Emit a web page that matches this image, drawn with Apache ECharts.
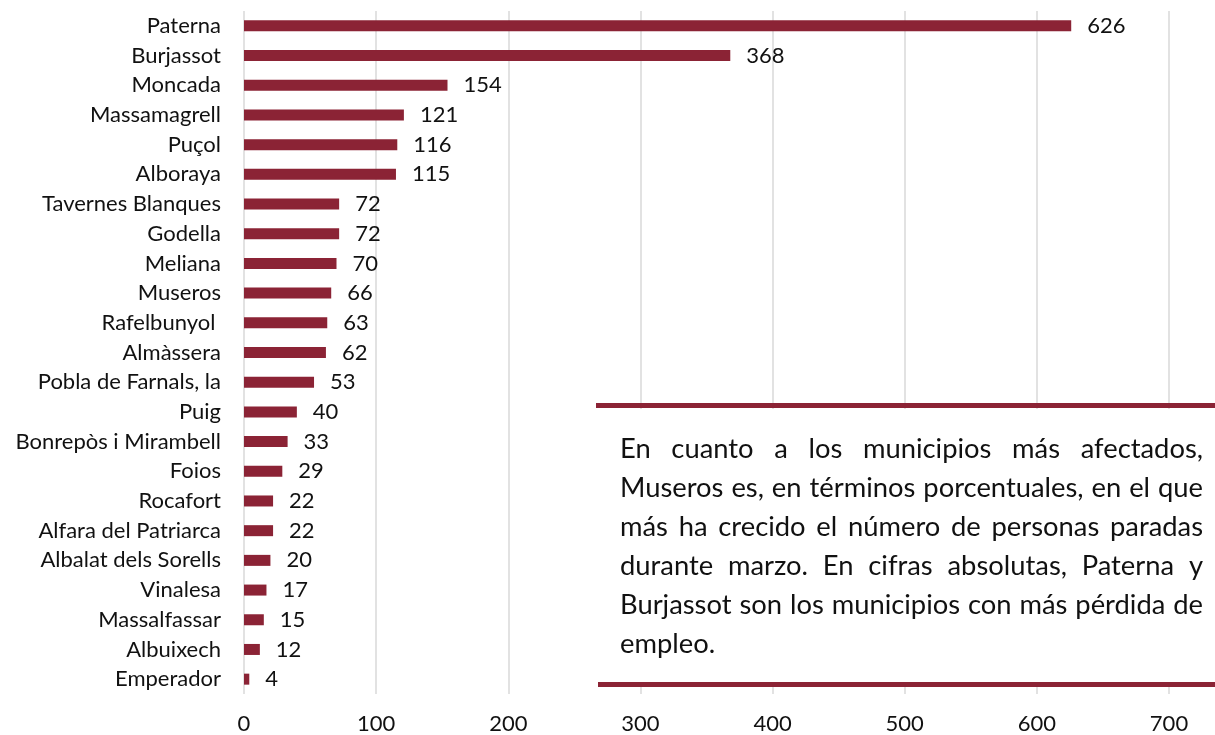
<!DOCTYPE html>
<html>
<head>
<meta charset="utf-8">
<script src="https://cdn.jsdelivr.net/npm/echarts@6/dist/echarts.min.js"></script>
<style>
  html, body { margin: 0; padding: 0; background: #fff; }
  #chart { width: 1215px; height: 735px; }
</style>
</head>
<body>
<div id="chart"></div>
<script>
// municipios, de arriba a abajo
const municipios = ['Paterna', 'Burjassot', 'Moncada', 'Massamagrell', 'Puçol', 'Alboraya',
  'Tavernes Blanques', 'Godella', 'Meliana', 'Museros', 'Rafelbunyol ', 'Almàssera',
  'Pobla de Farnals, la', 'Puig', 'Bonrepòs i Mirambell', 'Foios', 'Rocafort',
  'Alfara del Patriarca', 'Albalat dels Sorells', 'Vinalesa', 'Massalfassar', 'Albuixech', 'Emperador'];
const parados = [626, 368, 154, 121, 116, 115, 72, 72, 70, 66, 63, 62, 53, 40, 33, 29, 22, 22, 20, 17, 15, 12, 4];
const xTicks = [0, 700, 100]; // min, max, interval

const lineasTexto = [
  'En cuanto a los municipios más afectados,',
  'Museros es, en términos porcentuales, en el que',
  'más ha crecido el número de personas paradas',
  'durante marzo. En cifras absolutas, Paterna y',
  'Burjassot son los municipios con más pérdida de',
  'empleo.'
];

const granate = '#8b2335';
const fuente = 'Lato';

// texto justificado: medir palabras con canvas
const ctx = document.createElement('canvas').getContext('2d');
function ancho(s, size) {
  ctx.font = size + 'px ' + fuente;
  return ctx.measureText(s).width;
}
const txtLeft = 620, txtRight = 1203, txtW = txtRight - txtLeft;
let size = 100;
lineasTexto.slice(0, 5).forEach(l => {
  const s = txtW * 100 / ancho(l, 100);
  if (s < size) size = s;
});
size = size * 0.99;

const textos = [];
lineasTexto.forEach((l, i) => {
  const y = 449 + i * 39;
  const palabras = l.split(' ');
  const ultima = i === lineasTexto.length - 1;
  const total = palabras.reduce((a, p) => a + ancho(p, size), 0);
  const gap = ultima ? ancho(' ', size) : (txtW - total) / (palabras.length - 1);
  let x = txtLeft;
  palabras.forEach(p => {
    textos.push({
      type: 'text', x: x, y: y, z: 102,
      style: { text: p, font: size + 'px ' + fuente, fill: '#111', align: 'left', verticalAlign: 'middle' }
    });
    x += ancho(p, size) + gap;
  });
});

const myChart = echarts.init(document.getElementById('chart'));
const option = {
  animation: false,
  backgroundColor: '#fff',
  grid: { left: 244, right: 46, top: 11, bottom: 39 },
  xAxis: {
    type: 'value',
    min: xTicks[0], max: xTicks[1], interval: xTicks[2],
    axisLine: { show: false },
    axisTick: { show: false },
    axisLabel: { fontFamily: fuente, fontSize: 22, color: '#111', margin: 19 },
    splitLine: { show: true, lineStyle: { color: '#d9d9d9', width: 1.5 } }
  },
  yAxis: {
    type: 'category',
    data: municipios,
    inverse: true,
    axisLine: { show: false },
    axisTick: { show: false },
    axisLabel: { fontFamily: fuente, fontSize: 22, color: '#111', margin: 23 }
  },
  series: [{
    type: 'bar',
    data: parados,
    barWidth: 11,
    itemStyle: { color: granate },
    label: {
      show: true, position: 'right', distance: 16,
      fontFamily: fuente, fontSize: 22, color: '#111'
    }
  }],
  graphic: [
    { type: 'rect', z: 100, shape: { x: 596, y: 409, width: 619, height: 274 }, style: { fill: '#fff' } },
    { type: 'rect', z: 101, shape: { x: 596, y: 403, width: 619, height: 5 }, style: { fill: granate } },
    { type: 'rect', z: 101, shape: { x: 598, y: 682, width: 617, height: 5 }, style: { fill: granate } }
  ].concat(textos)
};
myChart.setOption(option);
</script>
</body>
</html>
